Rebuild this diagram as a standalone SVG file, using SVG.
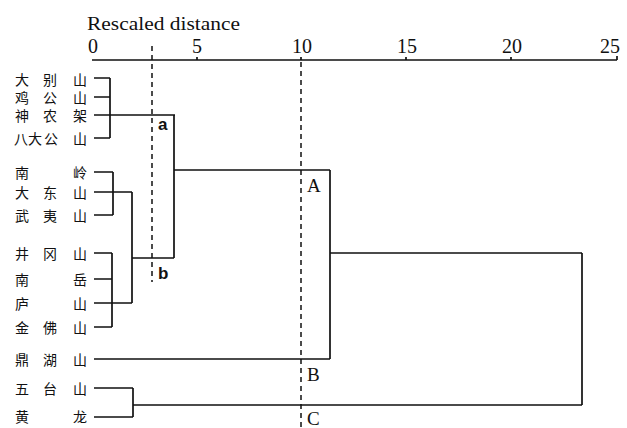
<svg xmlns="http://www.w3.org/2000/svg" width="627" height="428" viewBox="0 0 627 428">
<style>
.lbl{font-family:"Noto Sans CJK SC","Noto Sans CJK JP",sans-serif;font-size:14px;fill:#111;text-anchor:middle}
.num{font-family:"Liberation Serif",serif;font-size:20px;fill:#111;text-anchor:middle}
.cut{font-family:"Liberation Serif",serif;font-size:19px;fill:#111}
.sm{font-family:"Liberation Sans",sans-serif;font-size:17px;font-weight:bold;fill:#111}
.ln{stroke:#111;stroke-width:1.7;fill:none}
.dash{stroke:#111;stroke-width:1.5;fill:none;stroke-dasharray:5 4}
</style>
<rect width="627" height="428" fill="#fff"/>
<g id="axis">
<text x="87" y="30" font-family="Liberation Serif, serif" font-size="18" fill="#111" textLength="153" lengthAdjust="spacingAndGlyphs">Rescaled distance</text>
<text class="num" x="93" y="53">0</text>
<text class="num" x="197" y="53">5</text>
<text class="num" x="302" y="53">10</text>
<text class="num" x="407" y="53">15</text>
<text class="num" x="512" y="53">20</text>
<text class="num" x="610" y="53">25</text>
<path class="ln" d="M92 60H617M197 60v-3M301 60v-3M406 60v-3M511 60v-3M617 60v-4"/>
</g>
<g id="n-dabieshan"><text class="lbl" x="22" y="85">大</text><text class="lbl" x="50" y="85">别</text><text class="lbl" x="80" y="85">山</text></g>
<g id="n-jigongshan"><text class="lbl" x="22" y="103">鸡</text><text class="lbl" x="50" y="103">公</text><text class="lbl" x="80" y="103">山</text></g>
<g id="n-shennongjia"><text class="lbl" x="22" y="121">神</text><text class="lbl" x="50" y="121">农</text><text class="lbl" x="80" y="121">架</text></g>
<g id="n-badagongshan"><text class="lbl" x="21" y="144">八</text><text class="lbl" x="35" y="144">大</text><text class="lbl" x="51" y="144">公</text><text class="lbl" x="80" y="144">山</text></g>
<g id="n-nanling"><text class="lbl" x="22" y="178">南</text><text class="lbl" x="80" y="178">岭</text></g>
<g id="n-dadongshan"><text class="lbl" x="22" y="198">大</text><text class="lbl" x="50" y="198">东</text><text class="lbl" x="80" y="198">山</text></g>
<g id="n-wuyishan"><text class="lbl" x="22" y="221">武</text><text class="lbl" x="50" y="221">夷</text><text class="lbl" x="80" y="221">山</text></g>
<g id="n-jinggangshan"><text class="lbl" x="22" y="259">井</text><text class="lbl" x="50" y="259">冈</text><text class="lbl" x="80" y="259">山</text></g>
<g id="n-nanyue"><text class="lbl" x="22" y="285">南</text><text class="lbl" x="80" y="285">岳</text></g>
<g id="n-lushan"><text class="lbl" x="22" y="309">庐</text><text class="lbl" x="80" y="309">山</text></g>
<g id="n-jinfoshan"><text class="lbl" x="22" y="333">金</text><text class="lbl" x="50" y="333">佛</text><text class="lbl" x="80" y="333">山</text></g>
<g id="n-dinghushan"><text class="lbl" x="22" y="365">鼎</text><text class="lbl" x="50" y="365">湖</text><text class="lbl" x="80" y="365">山</text></g>
<g id="n-wutaishan"><text class="lbl" x="22" y="394">五</text><text class="lbl" x="50" y="394">台</text><text class="lbl" x="80" y="394">山</text></g>
<g id="n-huanglong"><text class="lbl" x="22" y="422">黄</text><text class="lbl" x="80" y="422">龙</text></g>
<g id="connectors">
<path class="ln" d="M94 78H110M94 97H110M94 115H175M94 138H110M110 78V138"/>
<path class="ln" d="M94 172H113M94 192H132M94 215H113M113 172V215"/>
<path class="ln" d="M94 253H112M94 279H112M94 303H132M94 327H112M112 253V327"/>
<path class="ln" d="M132 192V303M132 258H174M174 115V258"/>
<path class="ln" d="M174 170H330M94 359H330M330 170V359M330 253H582M582 253V405M133 405H582"/>
<path class="ln" d="M94 388H133M94 417H133M133 388V417"/>
</g>
<g id="cuts">
<path class="dash" d="M152 46V282"/>
<path class="dash" d="M301 62V428"/>
<text class="sm" x="158" y="130">a</text>
<text class="sm" x="158" y="279">b</text>
<text class="cut" x="307" y="192">A</text>
<text class="cut" x="307" y="381">B</text>
<text class="cut" x="307" y="425" font-size="18">C</text>
</g>
</svg>
